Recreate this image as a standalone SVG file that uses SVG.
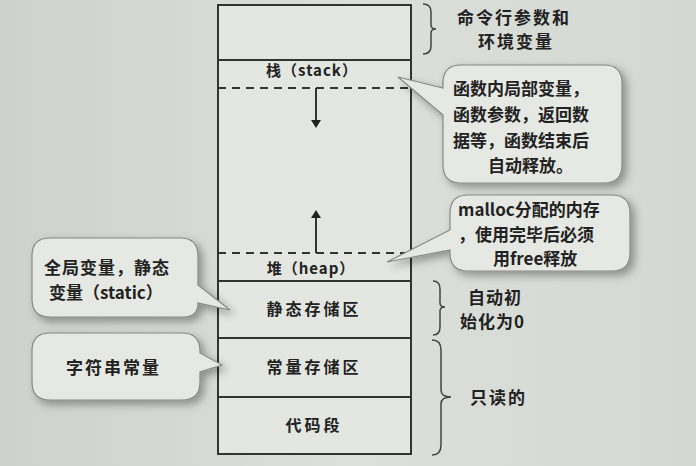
<svg xmlns="http://www.w3.org/2000/svg" width="696" height="466" viewBox="0 0 696 466">
<defs>
<filter id="sh" x="-20%" y="-20%" width="150%" height="150%"><feDropShadow dx="4" dy="4" stdDeviation="4" flood-color="#000" flood-opacity="0.35"/></filter>
<marker id="ah" markerWidth="8" markerHeight="10" refX="4" refY="5" orient="auto-start-reverse" markerUnits="userSpaceOnUse"><path d="M0,0 L8,5 L0,10 Z" fill="#222"/></marker>
<linearGradient id="bg" x1="0" y1="0" x2="1" y2="0"><stop offset="0" stop-color="#cdd2cc"/><stop offset="0.5" stop-color="#dcdfda"/><stop offset="1" stop-color="#d4d8d3"/></linearGradient>
</defs>
<style>
.t{font-family:"Noto Sans CJK SC","Liberation Sans",sans-serif;font-weight:bold;fill:#222;}
.m{font-size:16px;letter-spacing:3px;text-anchor:middle;}
.b{font-size:17px;}
.box{fill:#e3e6e1;stroke:#333;stroke-width:2;}
.ln{stroke:#333;stroke-width:2;fill:none;}
.ds{stroke:#333;stroke-width:2;stroke-dasharray:8,6;fill:none;}
.bub{fill:#e6e8e3;stroke:#888;stroke-width:1.2;filter:url(#sh);}
.br{stroke:#444;stroke-width:1.5;fill:none;}
</style>
<rect width="696" height="466" fill="url(#bg)"/>
<g id="memory">
<rect class="box" x="218" y="5" width="193" height="449"/>
<line class="ln" x1="218" y1="60" x2="411" y2="60"/>
<line class="ds" x1="218" y1="88" x2="411" y2="88"/>
<line class="ds" x1="218" y1="253" x2="411" y2="253"/>
<line class="ln" x1="218" y1="281" x2="411" y2="281"/>
<line class="ln" x1="218" y1="338" x2="411" y2="338"/>
<line class="ln" x1="218" y1="397" x2="411" y2="397"/>
</g>
<g id="connectors">
<line class="ln" x1="316" y1="88" x2="316" y2="124" marker-end="url(#ah)"/>
<line class="ln" x1="316" y1="253" x2="316" y2="214" marker-end="url(#ah)"/>
</g>
<g id="stack"><text class="t" x="312" y="76" font-size="15" text-anchor="middle" letter-spacing="1">栈（stack）</text></g>
<g id="heap"><text class="t" x="311" y="274" font-size="15" text-anchor="middle" letter-spacing="1">堆（heap）</text></g>
<g id="static"><text class="t m" x="314" y="315">静态存储区</text></g>
<g id="const"><text class="t m" x="314" y="373">常量存储区</text></g>
<g id="code"><text class="t m" x="314" y="431">代码段</text></g>
<g id="args">
<path class="br" d="M423,4 Q431,4 431,12 L431,25 Q431,29 436,29 Q431,29 431,33 L431,46 Q431,54 423,54"/>
<text class="t b" x="457" y="24" letter-spacing="2">命令行参数和</text>
<text class="t b" x="478" y="48" letter-spacing="2">环境变量</text>
</g>
<g id="bubble-stack">
<path class="bub" d="M461,65 L604,65 Q622,65 622,83 L622,165 Q622,183 604,183 L461,183 Q443,183 443,165 L443,115 L398,77 L443,88 L443,83 Q443,65 461,65 Z"/>
<text class="t b" x="453" y="95">函数内局部变量，</text>
<text class="t b" x="453" y="121">函数参数，返回数</text>
<text class="t b" x="453" y="147">据等，函数结束后</text>
<text class="t b" x="488" y="172">自动释放。</text>
</g>
<g id="bubble-heap">
<path class="bub" d="M468,195 L612,195 Q630,195 630,213 L630,253 Q630,271 612,271 L468,271 Q450,271 450,253 L450,250 L387,262 L450,230 L450,213 Q450,195 468,195 Z"/>
<text class="t b" x="458" y="216">malloc分配的内存</text>
<text class="t b" x="458" y="241">，使用完毕后必须</text>
<text class="t b" x="493" y="265">用free释放</text>
</g>
<g id="zero-init">
<path class="br" d="M433,281 Q440,281 440,289 L440,303 Q440,307 445,307 Q440,307 440,311 L440,327 Q440,335 433,335"/>
<text class="t b" x="468" y="304" letter-spacing="1">自动初</text>
<text class="t b" x="460" y="328" letter-spacing="1">始化为0</text>
</g>
<g id="readonly">
<path class="br" d="M432,340 Q441,340 441,350 L441,390 Q441,397 451,397 Q441,397 441,404 L441,445 Q441,455 432,455"/>
<text class="t b" x="470" y="404" letter-spacing="2">只读的</text>
</g>
<g id="bubble-global">
<path class="bub" d="M50,238 L180,238 Q198,238 198,256 L198,285 L230,310 L198,303 Q198,317 184,317 L50,317 Q32,317 32,299 L32,256 Q32,238 50,238 Z"/>
<text class="t b" x="44" y="274" letter-spacing="1">全局变量，静态</text>
<text class="t b" x="49" y="299">变量（static）</text>
</g>
<g id="bubble-string">
<path class="bub" d="M50,333 L182,333 Q200,333 200,351 L200,353 L222,365 L200,372 L200,382 Q200,400 182,400 L50,400 Q32,400 32,382 L32,351 Q32,333 50,333 Z"/>
<text class="t b" x="66" y="374" letter-spacing="2">字符串常量</text>
</g>
</svg>
